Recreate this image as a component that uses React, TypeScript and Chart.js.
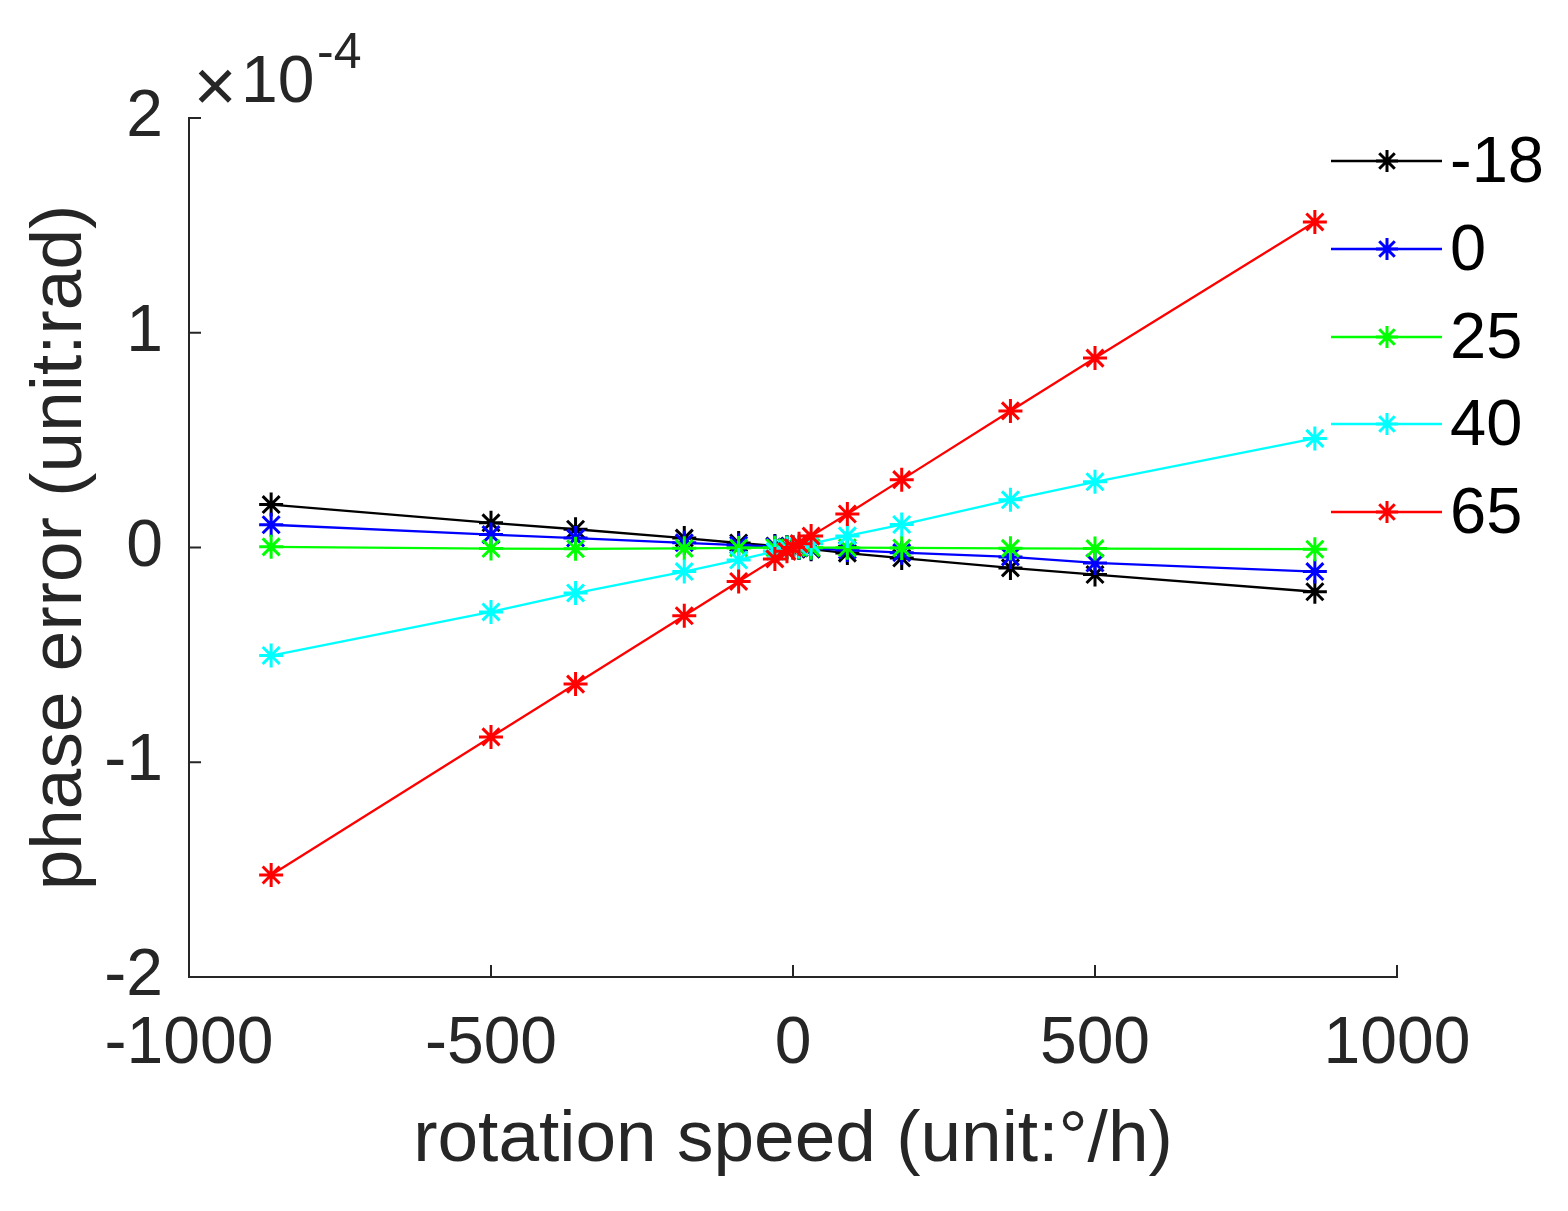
import React, { useEffect, useRef } from "react";
import { Chart, registerables } from "chart.js";

Chart.register(...registerables);

const speeds = [-864, -500, -360, -180, -90, -30, -10, 0, 10, 30, 90, 180, 360, 500, 864];
const seriesLabels = ["-18", "0", "25", "40", "65"];
const seriesColors = ["#000000", "#0000ff", "#00ff00", "#00ffff", "#ff0000"];
// values in units of 1e-4 rad
const errM18 = [0.2, 0.115, 0.085, 0.044, 0.021, 0.007, 0.002, 0, -0.002, -0.008, -0.026, -0.049, -0.095, -0.126, -0.206];
const err0 = [0.106, 0.06, 0.044, 0.022, 0.011, 0.004, 0.001, 0, -0.001, -0.004, -0.012, -0.024, -0.044, -0.072, -0.112];
const err25 = [0.003, -0.005, -0.006, -0.004, -0.002, -0.001, 0, 0, 0, -0.001, -0.001, -0.002, -0.004, -0.005, -0.008];
const err40 = [-0.503, -0.3, -0.212, -0.112, -0.058, -0.018, -0.006, 0, 0.006, 0.018, 0.054, 0.107, 0.222, 0.306, 0.508];
const err65 = [-1.525, -0.882, -0.636, -0.318, -0.158, -0.053, -0.018, 0, 0.018, 0.053, 0.156, 0.316, 0.636, 0.882, 1.516];
const seriesValues = [errM18, err0, err25, err40, err65];
const xTicks = [-1000, -500, 0, 500, 1000];
const yTicks = [-2, -1, 0, 1, 2];

const FONT = '"Liberation Sans", Arial, Helvetica, sans-serif';
const AX = "#262626";

const drawStar = (ctx: CanvasRenderingContext2D, x: number, y: number, r: number) => {
  ctx.beginPath();
  for (let i = 0; i < 4; i++) {
    const a = (i * Math.PI) / 4;
    ctx.moveTo(x - r * Math.cos(a), y - r * Math.sin(a));
    ctx.lineTo(x + r * Math.cos(a), y + r * Math.sin(a));
  }
  ctx.stroke();
};

const decorPlugin = {
  id: "decor",
  afterDraw(chart: any) {
    const ctx: CanvasRenderingContext2D = chart.ctx;
    const xs = chart.scales.x;
    const ys = chart.scales.y;
    const ca = chart.chartArea;
    ctx.save();
    // inward ticks
    ctx.strokeStyle = AX;
    ctx.lineWidth = 2;
    ctx.beginPath();
    xTicks.forEach((v) => {
      const px = xs.getPixelForValue(v);
      ctx.moveTo(px, ca.bottom);
      ctx.lineTo(px, ca.bottom - 12);
    });
    yTicks.forEach((v) => {
      const py = ys.getPixelForValue(v);
      ctx.moveTo(ca.left, py);
      ctx.lineTo(ca.left + 12, py);
    });
    ctx.stroke();

    // axis titles
    ctx.fillStyle = AX;
    ctx.font = `73px ${FONT}`;
    ctx.textAlign = "center";
    ctx.textBaseline = "alphabetic";
    ctx.fillText("rotation speed (unit:°/h)", (ca.left + ca.right) / 2, 1161);
    ctx.save();
    ctx.translate(81, (ca.top + ca.bottom) / 2);
    ctx.rotate(-Math.PI / 2);
    ctx.fillText("phase error (unit:rad)", 0, 0);
    ctx.restore();

    // exponent
    ctx.textAlign = "center";
    ctx.font = `74px ${FONT}`;
    ctx.fillText("×", 215, 111);
    ctx.textAlign = "left";
    ctx.font = `66px ${FONT}`;
    ctx.fillText("10", 241, 102);
    ctx.font = `50px ${FONT}`;
    ctx.fillText("-4", 317, 68);

    // legend
    const rows = [161, 249, 337, 424, 512];
    seriesLabels.forEach((lab, i) => {
      const y = rows[i];
      ctx.strokeStyle = seriesColors[i];
      ctx.lineWidth = 2.3;
      ctx.beginPath();
      ctx.moveTo(1331, y);
      ctx.lineTo(1442, y);
      ctx.stroke();
      ctx.lineWidth = 3;
      drawStar(ctx, 1387, y, 11);
      ctx.fillStyle = "#000000";
      ctx.font = `65px ${FONT}`;
      ctx.textAlign = "left";
      ctx.textBaseline = "middle";
      ctx.fillText(lab, 1450, y + 3);
    });
    ctx.restore();
  },
};

export default function App() {
  const ref = useRef<HTMLCanvasElement | null>(null);
  useEffect(() => {
    if (!ref.current) return;
    const datasets = seriesValues.map((vals, i) => ({
      label: seriesLabels[i],
      data: speeds.map((s, j) => ({ x: s, y: vals[j] })),
      borderColor: seriesColors[i],
      backgroundColor: seriesColors[i],
      borderWidth: 2.3,
      pointStyle: "star" as const,
      pointRadius: 12,
      pointBorderWidth: 3,
      pointBorderColor: seriesColors[i],
      order: 5 - i,
      tension: 0,
    }));
    const chart = new Chart(ref.current, {
      type: "line",
      data: { datasets },
      options: {
        animation: false,
        responsive: false,
        maintainAspectRatio: false,
        layout: { padding: { left: 0, right: 171, top: 118, bottom: 0 } },
        plugins: { legend: { display: false }, tooltip: { enabled: false } },
        scales: {
          x: {
            type: "linear",
            min: -1000,
            max: 1000,
            afterFit: (s: any) => { s.height = 234; },
            afterBuildTicks: (s: any) => { s.ticks = xTicks.map((v) => ({ value: v })); },
            grid: { display: false, drawTicks: false },
            border: { display: true, color: AX, width: 2 },
            ticks: {
              color: AX,
              font: { family: FONT, size: 66 },
              padding: 28,
              maxRotation: 0,
              autoSkip: false,
              callback: (v: any) => String(v),
            },
          },
          y: {
            type: "linear",
            min: -2,
            max: 2,
            afterFit: (s: any) => { s.width = 189; },
            afterBuildTicks: (s: any) => { s.ticks = yTicks.map((v) => ({ value: v })); },
            grid: { display: false, drawTicks: false },
            border: { display: true, color: AX, width: 2 },
            ticks: {
              color: AX,
              font: { family: FONT, size: 66 },
              padding: 26,
              autoSkip: false,
              callback: (v: any) => String(v),
            },
          },
        },
      },
      plugins: [decorPlugin],
    });
    return () => chart.destroy();
  }, []);
  return (
    <div style={{ position: "absolute", left: 0, top: 0, width: 1568, height: 1211, background: "#fff" }}>
      <canvas ref={ref} width={1568} height={1211} style={{ display: "block" }} />
    </div>
  );
}
